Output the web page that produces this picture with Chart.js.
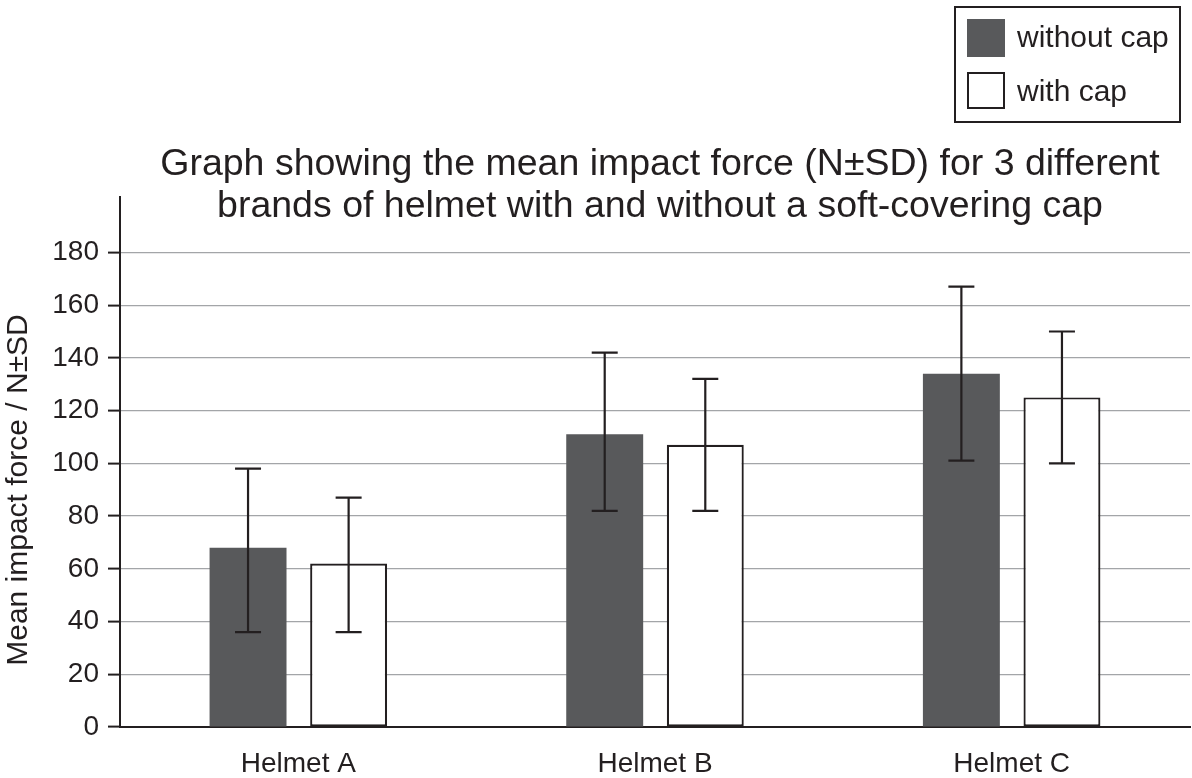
<!DOCTYPE html>
<html>
<head>
<meta charset="utf-8">
<script src="https://cdn.jsdelivr.net/npm/chart.js@4"></script>
<style>
  body { margin: 0; background: #fff; }
  #wrap { width: 1192px; height: 778px; }
</style>
</head>
<body>
<div id="wrap"><canvas id="helmetChart" width="1192" height="778"></canvas></div>
<script>
const categories = ['Helmet A', 'Helmet B', 'Helmet C'];
const withoutCapMean = [68, 111, 134];
const withoutCapUpper = [98, 142, 167];
const withoutCapLower = [36, 82, 101];
const withCapMean = [62, 107, 125];
const withCapUpper = [87, 132, 150];
const withCapLower = [36, 82, 100];
const yTicks = [0, 20, 40, 60, 80, 100, 120, 140, 160, 180];

const titleLines = [
    'Graph showing the mean impact force (N\u00B1SD) for 3 different',
    'brands of helmet with and without a soft-covering cap'
];
const yTitle = 'Mean impact force / N\u00B1SD';

const ink = '#231f20';
const dark = '#58595b';
const font = '"Liberation Sans", Arial, sans-serif';

// error bars, title, axis title and the boxed legend
const extras = {
    id: 'extras',
    afterDatasetsDraw(chart) {
        const ctx = chart.ctx;
        const y = chart.scales.y;
        chart.data.datasets.forEach((ds, di) => {
            chart.getDatasetMeta(di).data.forEach((bar, i) => {
                const top = y.getPixelForValue(ds.upper[i]);
                const bot = y.getPixelForValue(ds.lower[i]);
                ctx.save();
                ctx.strokeStyle = ink;
                ctx.lineWidth = 2.2;
                ctx.beginPath();
                ctx.moveTo(bar.x, top);
                ctx.lineTo(bar.x, bot);
                ctx.moveTo(bar.x - 13, top);
                ctx.lineTo(bar.x + 13, top);
                ctx.moveTo(bar.x - 13, bot);
                ctx.lineTo(bar.x + 13, bot);
                ctx.stroke();
                ctx.restore();
            });
        });
    },
    afterDraw(chart) {
        const ctx = chart.ctx;
        ctx.save();
        ctx.fillStyle = ink;

        // title
        ctx.font = '37.5px ' + font;
        ctx.textAlign = 'center';
        ctx.textBaseline = 'alphabetic';
        ctx.fillText(titleLines[0], 660, 175);
        ctx.fillText(titleLines[1], 660, 217);

        // y axis title
        ctx.save();
        ctx.translate(27, 490);
        ctx.rotate(-Math.PI / 2);
        ctx.font = '30px ' + font;
        ctx.fillText(yTitle, 0, 0);
        ctx.restore();

        // legend
        const ds = chart.data.datasets;
        ctx.lineWidth = 2;
        ctx.strokeStyle = ink;
        ctx.strokeRect(955, 7, 225, 115);
        ctx.fillStyle = ds[0].backgroundColor;
        ctx.fillRect(967, 19, 38, 38);
        ctx.fillStyle = ds[1].backgroundColor;
        ctx.fillRect(968, 73, 36, 35);
        ctx.strokeRect(968, 73, 36, 35);
        ctx.fillStyle = ink;
        ctx.font = '30px ' + font;
        ctx.textAlign = 'left';
        ctx.fillText(ds[0].label, 1017, 47);
        ctx.fillText(ds[1].label, 1017, 101);
        ctx.restore();
    }
};

new Chart(document.getElementById('helmetChart'), {
    type: 'bar',
    data: {
        labels: categories,
        datasets: [{
            label: 'without cap',
            data: withoutCapMean,
            upper: withoutCapUpper,
            lower: withoutCapLower,
            backgroundColor: dark,
            borderWidth: 0
        }, {
            label: 'with cap',
            data: withCapMean,
            upper: withCapUpper,
            lower: withCapLower,
            backgroundColor: '#ffffff',
            borderColor: ink,
            borderWidth: 2.2,
            borderSkipped: false
        }]
    },
    options: {
        responsive: false,
        animation: false,
        categoryPercentage: 0.564,
        barPercentage: 0.765,
        layout: { padding: { top: 197, right: 2, left: 0, bottom: 0 } },
        plugins: {
            legend: { display: false },
            title: { display: false },
            tooltip: { enabled: false }
        },
        scales: {
            x: {
                grid: { display: false },
                border: { display: true, color: ink, width: 2 },
                ticks: { color: ink, font: { family: font, size: 28 }, padding: 12 },
                afterFit(scale) { scale.height = 51; }
            },
            y: {
                min: 0,
                max: 201,
                afterBuildTicks(scale) { scale.ticks = yTicks.map(v => ({ value: v })); },
                grid: { color: '#a3a5a8', lineWidth: 1.2, tickLength: 12, tickColor: ink, tickWidth: 2 },
                border: { display: true, color: ink, width: 2 },
                ticks: { color: ink, font: { family: font, size: 28 }, padding: 9 },
                afterFit(scale) { scale.width = 120; }
            }
        }
    },
    plugins: [extras]
});
</script>
</body>
</html>
